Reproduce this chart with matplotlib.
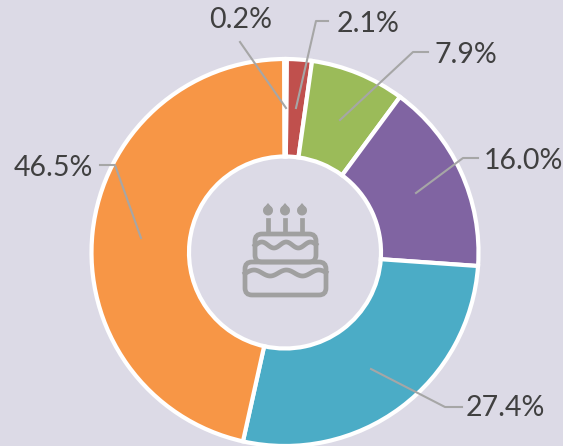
"""Donut chart of shares with a birthday cake icon in the hole."""

import matplotlib

matplotlib.use("Agg")

import matplotlib.pyplot as plt
import numpy as np
from matplotlib.patches import FancyBboxPatch, Polygon

# clockwise from twelve o'clock
shares = [2.1, 7.9, 16.0, 27.4, 46.5, 0.2]
labels = ["2.1%", "7.9%", "16.0%", "27.4%", "46.5%", "0.2%"]
colors = ["#C0504D", "#9BBB59", "#8064A2", "#4BACC6", "#F79646", "#2C4D75"]

BACKGROUND = "#DCDAE6"
LEADER = "#A6A6A6"
INK = "#404040"
ICON = "#A0A0A0"
WIDTH, HEIGHT = 563, 446
CENTER = (285, HEIGHT - 252.5)
RADIUS = 193.5
HOLE = 96
STROKE = 3.4

# label anchor, elbow and tip of each leader line, in picture pixels
leaders = [
    ((328, 21), (316, 21), (296, 108)),
    ((428, 52), (413, 52), (340, 120)),
    ((478, 158), (463, 158), (416, 193)),
    ((462, 407), (445, 407), (371, 369)),
    ((100, 165), (115, 165), (141, 238)),
    ((240, 42), (240, 42), (286, 108)),
]
label_spots = [
    (337, 24, "left"),
    (434, 55, "left"),
    (484, 161, "left"),
    (466, 408, "left"),
    (93, 168, "right"),
    (272, 20, "right"),
]


def flip(y):
    return HEIGHT - y


def draw_cake(axis):
    """Draw the outline cake icon in picture pixels."""
    style = {"fill": False, "edgecolor": ICON, "linewidth": STROKE}
    for left, top, right, bottom in [(255, 234, 316, 262), (245, 262, 326, 295)]:
        axis.add_patch(
            FancyBboxPatch(
                (left + 7, flip(bottom) + 7),
                right - left - 14,
                bottom - top - 14,
                boxstyle="round,pad=7,rounding_size=7",
                **style,
            )
        )
    for left, right, mid in [(255, 316, 245), (245, 326, 273)]:
        xs = np.linspace(left, right, 80)
        ys = mid + 3 * np.cos((xs - left) / (right - left) * 2 * np.pi * 2.5 + 1.4)
        axis.plot(xs, flip(ys), color=ICON, linewidth=STROKE)
    for x in [268, 285, 302]:
        axis.plot([x, x], [flip(220), flip(232)], color=ICON, linewidth=STROKE)
        t = np.linspace(0, 2 * np.pi, 40)
        body = np.column_stack([x + 5 * np.cos(t), flip(210.5) + 5 * np.sin(t)])
        axis.add_patch(Polygon(body, color=ICON, linewidth=0))
        axis.add_patch(
            Polygon(
                [(x - 4.6, flip(208.5)), (x + 4.6, flip(208.5)), (x, flip(203))],
                color=ICON,
                linewidth=0,
            )
        )


figure = plt.figure(figsize=(WIDTH / 100, HEIGHT / 100), dpi=100, facecolor=BACKGROUND)
axis = figure.add_axes([0, 0, 1, 1])
axis.axis("off")

axis.pie(
    shares,
    colors=colors,
    startangle=89.5,
    counterclock=False,
    center=CENTER,
    radius=RADIUS,
    wedgeprops={
        "width": RADIUS - HOLE,
        "edgecolor": "white",
        "linewidth": 3.0,
    },
)
axis.set_xlim(0, WIDTH)
axis.set_ylim(0, HEIGHT)
axis.set_aspect("equal")

for points in leaders:
    xs, ys = zip(*points)
    axis.plot(xs, [flip(y) for y in ys], color=LEADER, linewidth=1.5, zorder=5)

for text, (x, y, align) in zip(labels, label_spots):
    axis.text(
        x,
        flip(y),
        text,
        ha=align,
        va="center",
        color=INK,
        fontsize=20.5,
        family="Lato",
        zorder=6,
    )

draw_cake(axis)

figure.savefig("out.png", dpi=100, facecolor=BACKGROUND)
plt.close(figure)
